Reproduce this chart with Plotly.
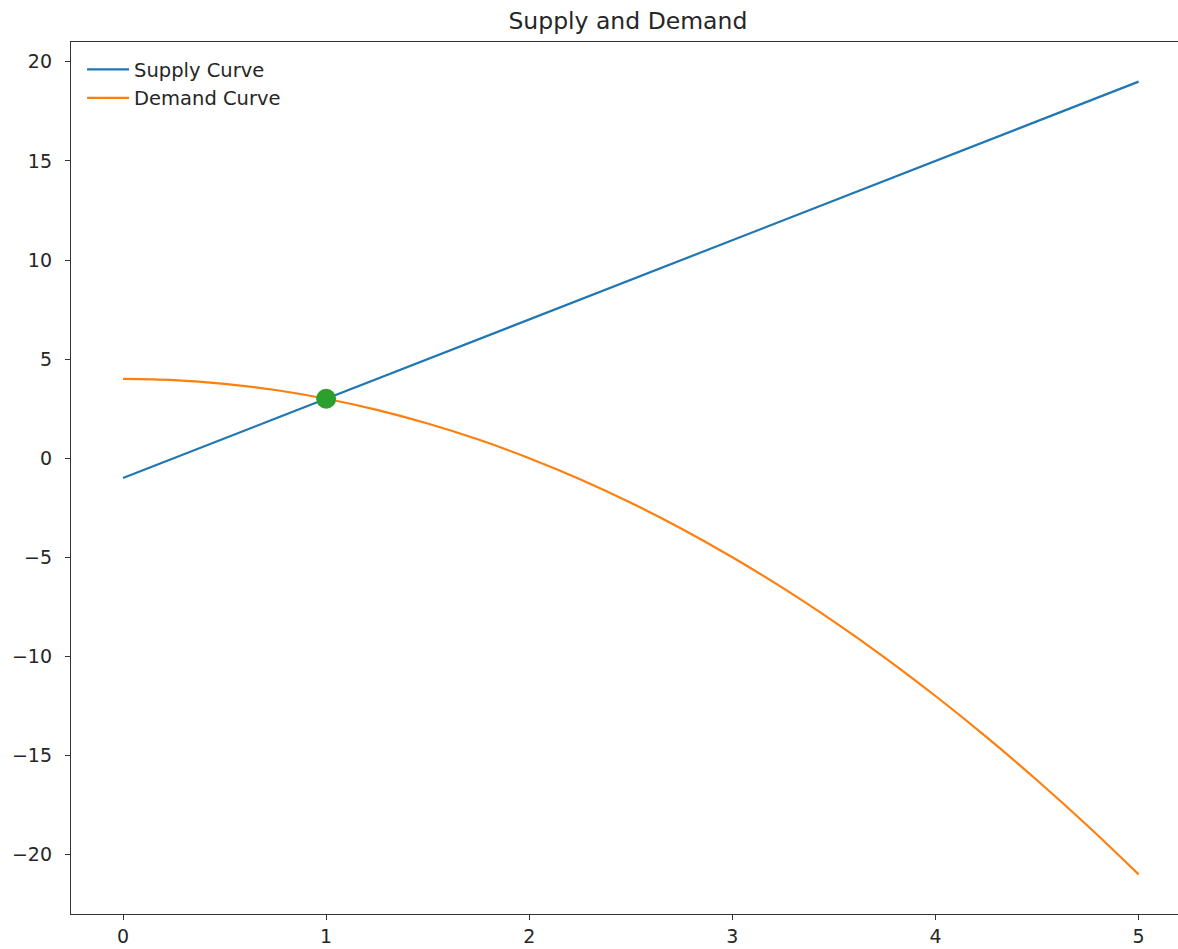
import plotly.graph_objects as go

# Values
x_vals = [0, 0.25, 0.5, 0.75, 1, 1.25, 1.5, 1.75, 2, 2.25, 2.5, 2.75, 3,
          3.25, 3.5, 3.75, 4, 4.25, 4.5, 4.75, 5]
supply_vals = [-1, 0, 1, 2, 3, 4, 5, 6, 7, 8, 9, 10, 11,
               12, 13, 14, 15, 16, 17, 18, 19]
demand_vals = [4, 3.94, 3.75, 3.44, 3, 2.44, 1.75, 0.94, 0, -1.06, -2.25,
               -3.56, -5, -6.56, -8.25, -10.06, -12, -14.06, -16.25, -18.56, -21]
equilibrium_x = [1]
equilibrium_y = [3]
x_ticks = [0, 1, 2, 3, 4, 5]
y_ticks = [-20, -15, -10, -5, 0, 5, 10, 15, 20]
y_tick_text = ["\u221220", "\u221215", "\u221210", "\u22125", "0", "5", "10", "15", "20"]

FONT = "DejaVu Sans"
AX = "#333333"

fig = go.Figure()
fig.add_trace(go.Scatter(x=x_vals, y=supply_vals, mode="lines", name="Supply Curve",
                         line=dict(color="#1f77b4", width=2.2)))
fig.add_trace(go.Scatter(x=x_vals, y=demand_vals, mode="lines", name="Demand Curve",
                         line=dict(color="#ff7f0e", width=2.2, shape="spline")))
fig.add_trace(go.Scatter(x=equilibrium_x, y=equilibrium_y, mode="markers", showlegend=False,
                         marker=dict(color="#2ca02c", size=20, line=dict(width=0))))

fig.update_layout(
    width=1178, height=949,
    margin=dict(l=71, r=0, t=42, b=35),
    paper_bgcolor="white", plot_bgcolor="white",
    font=dict(family=FONT, size=19, color="#262626"),
    title=dict(text="Supply and Demand", x=0.533, xanchor="center", y=0.978, yanchor="middle",
               font=dict(family=FONT, size=23.5, color="#262626")),
    legend=dict(x=0.01, y=0.9905, xanchor="left", yanchor="top", bgcolor="rgba(0,0,0,0)",
                font=dict(family=FONT, size=19.5, color="#262626"), tracegroupgap=0,
                itemwidth=42),
    showlegend=True,
)
fig.update_xaxes(range=[-0.256, 5.194], tickvals=x_ticks, showgrid=False, zeroline=False,
                 showline=True, linecolor=AX, linewidth=1.3, mirror=True,
                 ticks="outside", ticklen=5, tickcolor=AX, tickwidth=1.2,
                 tickfont=dict(size=19))
fig.update_yaxes(range=[-23, 21], tickvals=y_ticks, ticktext=y_tick_text, showgrid=False,
                 zeroline=False, showline=True, linecolor=AX, linewidth=1.3,
                 ticks="outside", ticklen=5, tickcolor=AX, tickwidth=1.2,
                 tickfont=dict(size=19), ticklabelstandoff=9)

fig.write_html("out.html")
